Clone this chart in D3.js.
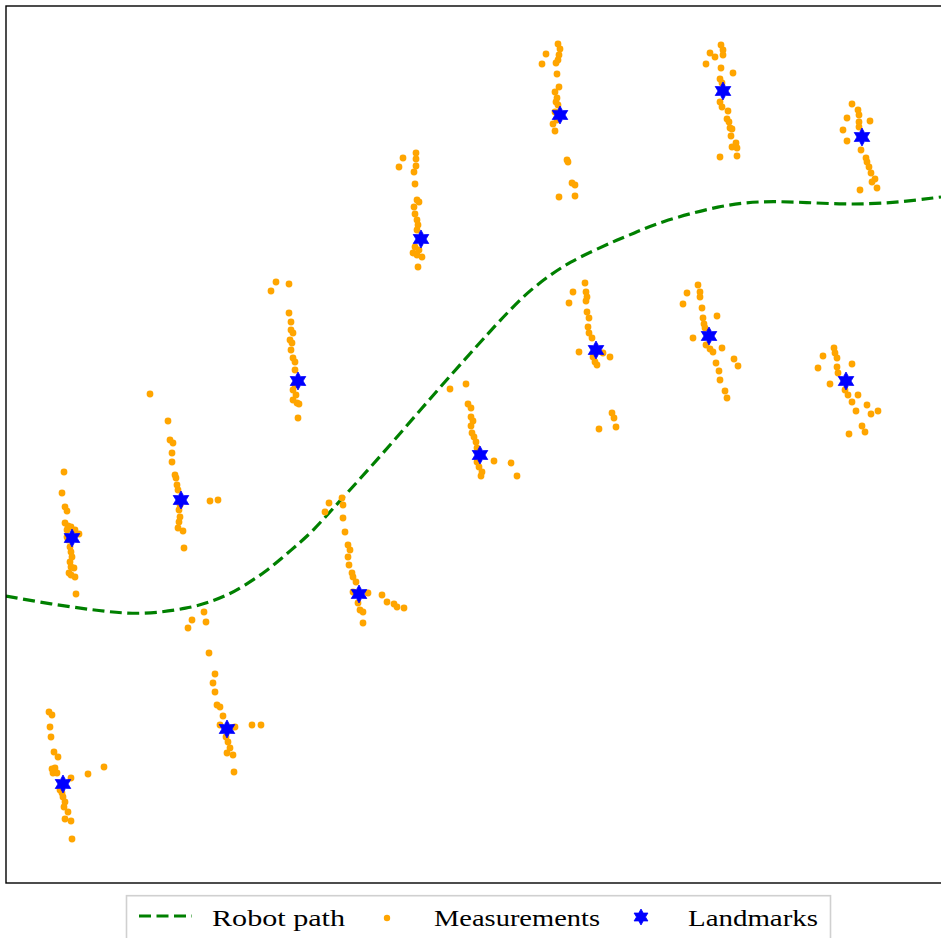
<!DOCTYPE html>
<html>
<head>
<meta charset="utf-8">
<script src="https://cdn.jsdelivr.net/npm/d3@7"></script>
<style>
  html, body { margin: 0; padding: 0; background: #fff; }
  svg { display: block; }
</style>
</head>
<body>
<svg id="chart" width="941" height="938"></svg>
<script>
// robot path (x, y) in map units
let pathX = [0, 4.4, 9.4, 13.7, 18.4, 20.4, 22.2, 24.1, 25.9, 27.6, 29.1, 30.7, 33.1, 37.4, 43.4, 48.7, 50.4, 52.2, 54.4, 56.4, 58.9, 61.1, 63.1, 65.1, 71.4, 76.4, 83.7, 88.7, 93.5]
let pathY = [28.7, 27.9, 27.2, 26.8, 27.5, 28.1, 28.8, 29.9, 31.1, 32.5, 33.8, 35.2, 37.9, 42.6, 49.6, 55.5, 57.3, 59.1, 60.8, 62.1, 63.3, 64.3, 65.1, 66.0, 67.8, 68.3, 67.8, 68.0, 68.6]

// landmark positions
let landmarkX = [6.6, 17.5, 29.2, 41.5, 55.4, 71.7, 85.6, 5.7, 22.1, 35.3, 47.4, 59.0, 70.3, 84.0]
let landmarkY = [34.5, 38.3, 50.2, 64.4, 76.8, 79.2, 74.6, 9.9, 15.4, 28.9, 42.8, 53.3, 54.7, 50.2]

// noisy measurements, one list per landmark
let measX = [
  [5.8, 5.6, 5.9, 6.1, 6.2, 6.5, 6.1, 7.3, 6.1, 6.2, 6.4, 6.5, 6.6, 6.4, 6.5, 6.8, 6.3, 6.5, 6.9, 7.0, 5.9, 6.9],
  [14.4, 16.2, 16.4, 16.7, 16.6, 16.6, 16.9, 17.0, 17.2, 20.4, 21.2, 17.3, 17.4, 17.3, 17.2, 17.7, 17.8, 17.1, 17.4],
  [27.0, 28.3, 26.5, 28.3, 28.5, 28.5, 28.7, 28.4, 28.6, 28.5, 28.7, 28.9, 28.9, 28.9, 28.7, 29.0, 28.7, 29.1, 29.3, 29.2],
  [41.0, 39.7, 41.0, 41.0, 39.3, 40.8, 40.9, 41.1, 41.3, 40.8, 40.9, 41.1, 41.2, 41.1, 40.9, 41.3, 40.7, 41.1, 41.6, 41.2],
  [55.2, 55.4, 54.0, 55.3, 55.2, 53.6, 55.0, 55.1, 55.3, 54.9, 55.1, 55.0, 55.2, 54.9, 55.1, 54.7, 54.9, 56.1, 56.2, 56.6, 56.9, 55.3, 56.9],
  [71.5, 71.7, 70.4, 70.9, 71.7, 70.0, 71.5, 72.7, 71.4, 71.6, 71.4, 71.6, 72.2, 72.1, 72.3, 72.4, 72.6, 72.5, 73.0, 72.6, 73.1, 71.4, 73.1],
  [84.6, 85.2, 85.3, 84.1, 86.4, 85.3, 85.3, 83.7, 84.1, 85.5, 86.0, 86.1, 86.3, 86.5, 86.9, 86.6, 87.1, 85.4],
  [4.3, 4.6, 4.4, 4.5, 4.8, 5.2, 4.7, 4.9, 5.1, 6.5, 8.2, 9.8, 5.4, 5.6, 5.7, 5.9, 5.8, 6.2, 5.9, 6.5, 6.6, 4.6],
  [19.8, 18.6, 20.0, 18.2, 20.3, 20.9, 20.7, 20.9, 21.1, 21.4, 21.7, 21.4, 22.9, 24.6, 25.5, 22.0, 22.2, 22.4, 22.1, 22.7, 22.8],
  [32.3, 33.6, 31.9, 33.7, 33.7, 33.9, 34.2, 34.4, 34.2, 34.3, 34.6, 34.7, 35.0, 34.7, 36.2, 37.6, 38.1, 38.8, 39.1, 39.8, 35.2, 35.4, 35.7, 35.7],
  [46.0, 44.4, 46.2, 46.5, 46.5, 46.7, 46.5, 46.6, 46.8, 47.0, 47.1, 48.8, 50.5, 51.1, 47.1, 47.3, 47.6, 47.5],
  [57.9, 56.7, 58.0, 58.1, 56.3, 58.0, 58.1, 58.3, 58.2, 58.3, 58.6, 57.3, 60.4, 58.7, 58.9, 59.1, 59.7, 60.6, 60.8, 59.3, 61.0],
  [69.2, 69.4, 68.1, 69.4, 67.7, 69.6, 71.1, 69.7, 69.8, 69.9, 68.7, 70.0, 70.4, 71.6, 70.7, 72.8, 73.2, 71.0, 71.3, 71.4, 71.9, 72.1],
  [82.8, 82.9, 81.7, 83.1, 84.6, 81.2, 83.1, 83.2, 82.4, 83.9, 84.2, 85.2, 84.6, 85.0, 86.1, 87.2, 86.5, 85.6, 85.9, 84.3]
]
let measY = [
  [41.1, 39.0, 37.6, 37.2, 35.7, 35.6, 35.3, 34.9, 34.6, 34.3, 33.6, 33.1, 32.6, 32.1, 31.6, 31.5, 31.0, 30.8, 30.6, 28.9, 36.0, 35.3],
  [48.9, 46.2, 44.3, 44.0, 43.0, 42.1, 40.8, 40.5, 39.3, 38.2, 38.3, 37.3, 36.6, 36.1, 35.5, 35.2, 33.5, 39.8, 37.8],
  [60.1, 59.9, 59.2, 57.0, 56.1, 55.3, 55.0, 54.3, 54.0, 53.3, 52.5, 52.1, 51.3, 49.8, 49.3, 48.8, 48.3, 48.0, 47.9, 46.5],
  [73.0, 72.5, 72.4, 71.7, 71.6, 71.1, 69.9, 68.3, 68.1, 67.6, 66.9, 66.3, 65.8, 65.3, 63.6, 63.3, 63.0, 62.8, 62.6, 61.6],
  [83.9, 83.4, 82.9, 82.8, 82.3, 81.9, 82.0, 80.9, 79.6, 79.1, 78.5, 78.1, 77.8, 77.1, 76.3, 75.9, 75.2, 72.3, 72.1, 70.0, 69.8, 68.6, 68.7],
  [83.8, 83.3, 83.0, 82.6, 82.8, 81.9, 81.5, 81.0, 80.4, 80.0, 78.1, 77.6, 77.2, 76.4, 76.1, 75.5, 75.4, 74.7, 74.0, 73.6, 73.5, 72.6, 72.7],
  [77.9, 77.3, 76.8, 76.5, 76.2, 76.1, 75.6, 75.3, 74.2, 73.3, 72.5, 72.1, 71.6, 71.0, 70.4, 70.1, 69.5, 69.3],
  [17.1, 16.8, 15.6, 14.6, 13.1, 12.6, 11.0, 11.5, 11.0, 10.5, 10.9, 11.6, 9.3, 9.0, 8.6, 8.1, 7.6, 7.1, 6.4, 6.2, 4.4, 11.4],
  [27.1, 26.3, 26.1, 25.5, 23.0, 20.9, 20.0, 19.1, 17.8, 17.6, 16.7, 15.8, 15.6, 15.8, 15.8, 14.6, 14.1, 13.5, 13.0, 12.8, 11.1],
  [38.0, 38.5, 37.1, 37.8, 36.5, 35.1, 33.8, 33.3, 32.6, 31.8, 31.0, 30.6, 30.1, 29.1, 29.0, 28.8, 28.1, 27.9, 27.6, 27.5, 28.0, 27.3, 27.1, 26.0],
  [49.9, 49.4, 47.9, 47.5, 46.6, 46.2, 45.7, 45.0, 44.6, 44.1, 43.5, 42.2, 42.0, 40.7, 42.1, 41.6, 41.1, 40.7],
  [60.0, 59.1, 59.1, 58.6, 58.0, 58.2, 57.1, 56.5, 55.6, 55.0, 54.5, 53.1, 52.6, 52.6, 52.1, 51.8, 53.0, 47.0, 46.5, 45.4, 45.6],
  [59.8, 59.1, 59.0, 58.6, 57.9, 57.5, 56.7, 56.5, 55.9, 55.5, 54.5, 53.8, 53.4, 53.5, 53.1, 52.4, 51.7, 52.0, 51.2, 50.3, 49.2, 48.5],
  [53.5, 53.0, 52.7, 52.5, 51.9, 51.5, 51.6, 51.0, 49.9, 49.3, 48.8, 48.8, 48.1, 47.2, 47.8, 47.2, 46.9, 45.7, 45.1, 44.9]
]

let legendLabels = ['Robot path', 'Measurements', 'Landmarks']

let svg = d3.select('#chart')

let xScale = d3.scaleLinear().domain([0, 93.5]).range([6, 941])
let yScale = d3.scaleLinear().domain([0, 87.7]).range([883, 6])

let starPath = (outer, inner) => {
    let pts = []
    for (let i = 0; i < 12; i++) {
        let r = i % 2 === 0 ? outer : inner
        let a = -Math.PI / 2 + i * Math.PI / 6
        pts.push([r * Math.cos(a), r * Math.sin(a)])
    }
    return 'M' + pts.map(p => p[0].toFixed(2) + ',' + p[1].toFixed(2)).join('L') + 'Z'
}

svg.append('defs').append('clipPath').attr('id', 'plotclip')
   .append('rect').attr('x', 6).attr('y', 6).attr('width', 940).attr('height', 877)

let plot = svg.append('g').attr('clip-path', 'url(#plotclip)')

// robot path
let pathData = pathX.map((x, i) => [x, pathY[i]])
let line = d3.line()
             .x(d => xScale(d[0]))
             .y(d => yScale(d[1]))
             .curve(d3.curveBasis)

plot.append('path')
    .datum(pathData)
    .attr('d', line)
    .attr('fill', 'none')
    .attr('stroke', 'green')
    .attr('stroke-width', 3.2)
    .attr('stroke-dasharray', '12,5.5')

// measurements
let measData = []
measX.forEach((xs, k) => {
    xs.forEach((x, i) => measData.push([x, measY[k][i]]))
})

plot.selectAll('circle.meas')
    .data(measData)
    .enter()
    .append('circle')
    .attr('class', 'meas')
    .attr('cx', d => xScale(d[0]))
    .attr('cy', d => yScale(d[1]))
    .attr('r', 3.4)
    .attr('fill', 'orange')

// landmarks
plot.selectAll('path.lm')
    .data(landmarkX.map((x, i) => [x, landmarkY[i]]))
    .enter()
    .append('path')
    .attr('class', 'lm')
    .attr('d', starPath(9, 5))
    .attr('transform', d => 'translate(' + xScale(d[0]) + ',' + yScale(d[1]) + ')')
    .attr('fill', 'blue')
    .attr('stroke', 'blue')
    .attr('stroke-width', 0.8)

// frame
svg.append('rect')
   .attr('x', 6).attr('y', 6)
   .attr('width', 945).attr('height', 877)
   .attr('fill', 'none')
   .attr('stroke', '#000')
   .attr('stroke-width', 1.4)

// legend
let legend = svg.append('g')
legend.append('rect')
      .attr('x', 126.5).attr('y', 895.7)
      .attr('width', 704).attr('height', 60)
      .attr('fill', '#fff')
      .attr('stroke', '#d0d0d0')
      .attr('stroke-width', 1.6)

legend.append('line')
      .attr('x1', 139).attr('x2', 192)
      .attr('y1', 916).attr('y2', 916)
      .attr('stroke', 'green')
      .attr('stroke-width', 3.2)
      .attr('stroke-dasharray', '12,5.5')

legend.append('circle')
      .attr('cx', 387).attr('cy', 918).attr('r', 3.2)
      .attr('fill', 'orange')

legend.append('path')
      .attr('d', starPath(8, 4.5))
      .attr('transform', 'translate(641,917)')
      .attr('fill', 'blue')
      .attr('stroke', 'blue')
      .attr('stroke-width', 0.8)

let textX = [212, 434, 688]
let textW = [133, 166, 130]
legend.selectAll('text')
      .data(legendLabels)
      .enter()
      .append('text')
      .attr('x', (d, i) => textX[i])
      .attr('y', 926)
      .attr('textLength', (d, i) => textW[i])
      .attr('lengthAdjust', 'spacingAndGlyphs')
      .style('font-family', '"Liberation Serif", "DejaVu Serif", serif')
      .style('font-size', '23px')
      .attr('fill', '#000')
      .text(d => d)
</script>
</body>
</html>
